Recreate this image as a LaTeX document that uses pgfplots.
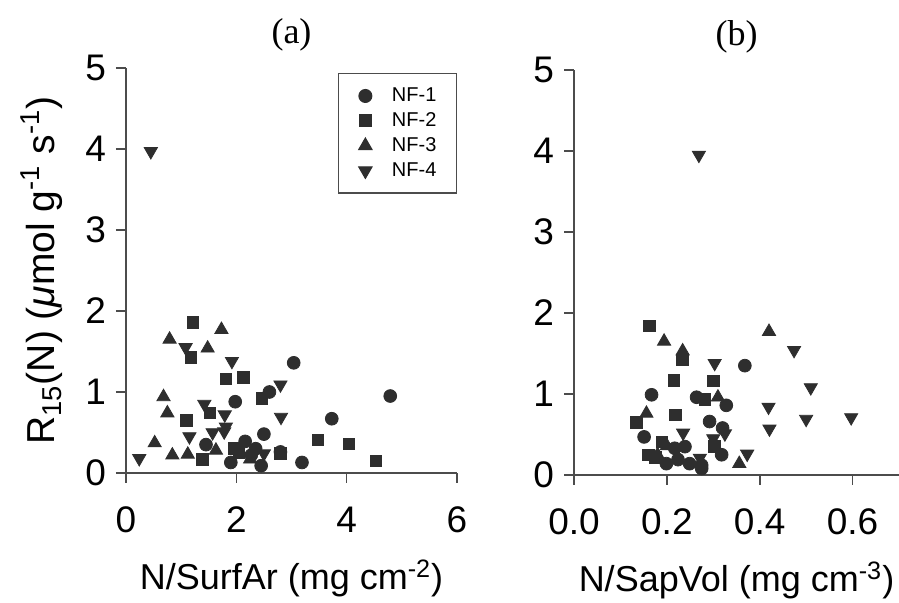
\documentclass[border=0pt]{standalone}
\usepackage{pgfplots}
\pgfplotsset{compat=1.18}
\usepackage{fontspec}
\setmainfont{Liberation Sans}
\newfontfamily\seriff{Liberation Serif}
\colorlet{mk}{black!82}
\colorlet{ax}{black!70}
\begin{document}
\begin{tikzpicture}
\path[use as bounding box] (0,0) rectangle (449.5pt,301.5pt);
\pgfplotsset{
  myax/.style={
    scale only axis, anchor=south west,
    height=202.5pt, ymin=0, ymax=5, ytick={0,1,2,3,4,5},
    axis x line=bottom, axis y line=left,
    axis line style={-, ax, line width=0.8pt},
    every tick/.style={ax, line width=0.8pt},
    tick align=outside, major tick length=5pt,
    /pgf/number format/assume math mode=true,
    tick label style={font=\fontsize{18.5}{20}\selectfont},
    x tick label style={yshift=-8.5pt},
    y tick label style={xshift=-1.5pt},
    label style={font=\fontsize{18}{20}\selectfont},
    title style={font=\seriff\fontsize{18}{20}\selectfont, at={(0.5,1)}, anchor=base, yshift=6pt},
    xlabel style={at={(rel axis cs:0.5,0)}, anchor=base, yshift=-58.5pt},
    clip=false,
  },
  nf1/.style={only marks, mark=*, mark size=3.2pt, mark options={fill=mk, draw=mk}},
  nf2/.style={only marks, mark=square*, mark size=2.9pt, mark options={fill=mk, draw=mk}},
  nf3/.style={only marks, mark=triangle*, mark size=3.8pt, mark options={fill=mk, draw=mk}},
  nf4/.style={only marks, mark=triangle*, mark size=3.8pt, mark options={fill=mk, draw=mk, rotate=180}},
}
% ---------------- (a)
\begin{axis}[myax, at={(63pt,65pt)}, width=165.5pt,
  xmin=0, xmax=6, xtick={0,2,4,6},
  title={(a)},
  xlabel={N/SurfAr (mg cm\textsuperscript{-2})},
  ylabel={R\textsubscript{15}(N) (\textit{μ}mol g\textsuperscript{-1} s\textsuperscript{-1})},
  ylabel style={at={(rel axis cs:0,0.5)}, anchor=center, yshift=42pt, font=\fontsize{19.5}{21}\selectfont},
  legend style={at={(rel axis cs:1,1)}, anchor=north east, yshift=-2.5pt,
    draw=ax, line width=0.6pt, font=\fontsize{10}{11}\selectfont,
    inner xsep=10pt, inner ysep=7pt, row sep=4pt,
    nodes={inner sep=0pt, anchor=west},
    /tikz/every odd column/.append style={column sep=10pt}},
  legend cell align=left,
  legend image code/.code={\draw[mark repeat=2,mark phase=2,#1] plot coordinates {(-5pt,0pt)(0pt,0pt)(5pt,0pt)};},
]
\addplot[nf1] coordinates {(3.04,1.36)(2.6,1.0)(1.98,0.88)(2.5,0.48)(1.45,0.35)(2.16,0.39)(1.90,0.13)(2.8,0.26)(2.45,0.09)(3.19,0.13)(4.79,0.95)(3.73,0.67)(2.27,0.22)(2.35,0.30)};
\addlegendentry{NF-1}
\addplot[nf2] coordinates {(1.21,1.86)(1.18,1.43)(1.81,1.16)(2.13,1.18)(2.46,0.92)(1.52,0.74)(1.10,0.65)(1.39,0.17)(1.96,0.30)(2.8,0.24)(3.48,0.41)(4.04,0.36)(4.53,0.15)(2.05,0.25)};
\addlegendentry{NF-2}
\addplot[nf3] coordinates {(0.79,1.65)(1.73,1.77)(1.48,1.54)(0.68,0.94)(0.75,0.74)(0.52,0.37)(0.84,0.22)(1.12,0.23)(1.63,0.28)(2.25,0.17)};
\addlegendentry{NF-3}
\addplot[nf4] coordinates {(0.24,0.18)(1.08,1.55)(1.92,1.38)(2.8,1.09)(1.42,0.85)(1.79,0.72)(1.81,0.57)(2.81,0.69)(1.15,0.45)(1.57,0.50)(2.5,0.24)(0.45,3.97)(1.78,0.51)};
\addlegendentry{NF-4}
\end{axis}
% ---------------- (b)
\begin{axis}[myax, at={(287pt,64pt)}, width=162.5pt,
  xmin=0, xmax=0.7, xtick={0,0.2,0.4,0.6},
  x tick label style={/pgf/number format/fixed, /pgf/number format/fixed zerofill, /pgf/number format/precision=1},
  title={(b)},
  xlabel={N/SapVol (mg cm\textsuperscript{-3})},
]
\addplot[nf1] coordinates {(0.167,0.99)(0.264,0.96)(0.368,1.35)(0.328,0.86)(0.151,0.47)(0.217,0.33)(0.239,0.35)(0.199,0.14)(0.224,0.19)(0.249,0.14)(0.275,0.08)(0.292,0.66)(0.32,0.58)(0.318,0.25)(0.275,0.12)};
\addplot[nf2] coordinates {(0.163,1.84)(0.234,1.42)(0.215,1.17)(0.30,1.16)(0.282,0.93)(0.135,0.65)(0.219,0.74)(0.189,0.41)(0.16,0.25)(0.303,0.35)(0.175,0.22)};
\addplot[nf3] coordinates {(0.194,1.65)(0.234,1.53)(0.42,1.77)(0.156,0.76)(0.31,0.96)(0.356,0.14)(0.18,0.25)(0.20,0.36)};
\addplot[nf4] coordinates {(0.269,3.95)(0.303,1.38)(0.474,1.54)(0.51,1.08)(0.419,0.84)(0.50,0.69)(0.597,0.71)(0.421,0.57)(0.235,0.52)(0.325,0.51)(0.30,0.45)(0.373,0.26)(0.271,0.21)};
\end{axis}
\end{tikzpicture}
\end{document}
